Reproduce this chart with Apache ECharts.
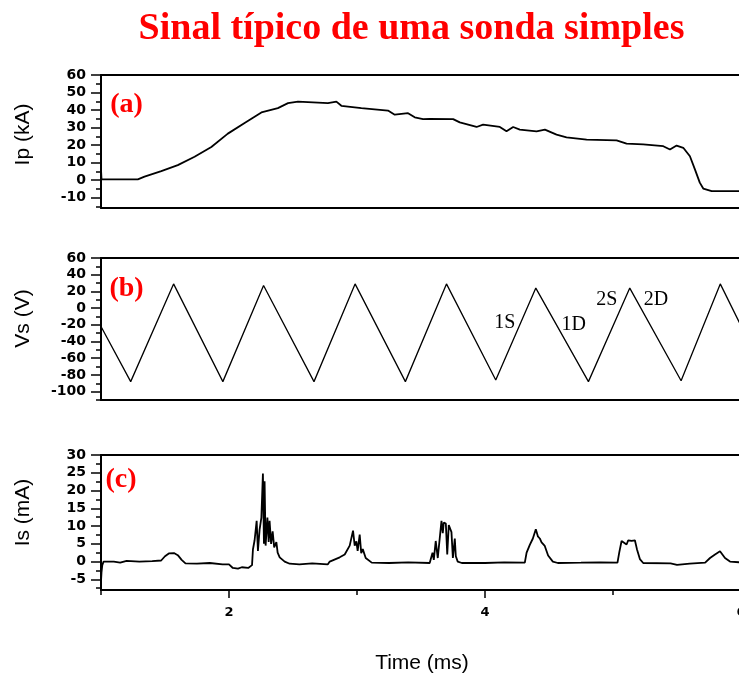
<!DOCTYPE html>
<html>
<head>
<meta charset="utf-8">
<script src="https://cdn.jsdelivr.net/npm/echarts@6/dist/echarts.min.js"></script>
<style>html,body{margin:0;padding:0;background:#fff}#c{width:739px;height:681px}</style>
</head>
<body>
<div id="c"></div>
<script>
// ---------- data ----------
const ipTime = [1.000,1.004,1.010,1.288,1.340,1.471,1.600,1.731,1.862,1.991,2.122,2.253,2.382,2.461,2.539,2.773,2.839,2.878,3.034,3.242,3.295,3.399,3.451,3.516,3.568,3.751,3.803,3.934,3.985,4.116,4.168,4.220,4.272,4.403,4.468,4.559,4.637,4.794,5.028,5.106,5.236,5.393,5.445,5.497,5.549,5.601,5.640,5.678,5.705,5.771,5.990];
const ipCurrent = [6,0.4,0.4,0.4,1.9,5.1,8.5,13.3,18.9,26.5,32.6,38.6,41.1,43.9,44.8,43.9,44.8,42.4,41.1,39.7,37.3,38.2,35.8,34.8,34.9,34.8,32.9,30.3,31.6,30.3,27.8,30.3,28.8,27.8,28.8,25.9,24.4,23.1,22.7,20.8,20.3,19.3,17.4,19.7,18.4,13.6,6.1,-1.5,-4.9,-6.4,-6.4];

const vsTime = [1.000,1.232,1.567,1.952,2.270,2.664,2.985,3.378,3.699,4.084,4.397,4.808,5.131,5.532,5.838,5.990];
const vsVoltage = [-22,-88,29,-88,27,-88,29,-88,29,-86,24,-88,24,-87,29,-18];

const isTime = [1.000,1.004,1.010,1.020,1.100,1.150,1.200,1.300,1.400,1.470,1.500,1.530,1.570,1.600,1.630,1.660,1.750,1.850,1.950,2.000,2.030,2.070,2.100,2.150,2.180,2.187,2.200,2.216,2.226,2.239,2.253,2.265,2.273,2.278,2.286,2.300,2.310,2.317,2.329,2.341,2.353,2.370,2.380,2.396,2.435,2.474,2.550,2.650,2.771,2.787,2.865,2.904,2.943,2.969,2.982,2.995,3.005,3.021,3.033,3.045,3.068,3.115,3.250,3.400,3.568,3.590,3.600,3.615,3.631,3.641,3.660,3.670,3.678,3.694,3.705,3.717,3.738,3.749,3.764,3.772,3.787,3.819,4.000,4.150,4.311,4.325,4.350,4.374,4.397,4.413,4.428,4.442,4.467,4.493,4.530,4.569,4.750,4.900,5.035,5.049,5.067,5.106,5.119,5.145,5.171,5.187,5.210,5.236,5.450,5.500,5.600,5.720,5.758,5.797,5.836,5.875,5.914,5.990];
const isCurrent = [-5.5,-3,-1,0,0,-0.3,0.2,0,0.1,0.3,1.5,2.3,2.4,1.8,0.5,-0.5,-0.6,-0.4,-0.8,-0.8,-1.8,-2,-1.6,-1.8,-1.0,3.4,6,11.5,3,9,12.4,24.8,5,22.6,4.5,12.4,5.5,11.5,5,8.5,4,5.5,2.5,1.2,0,-0.6,-0.8,-0.5,-0.8,0,1.2,2,4.5,8.7,4.5,5.7,3,7.6,2.4,3.5,1,-0.3,-0.4,-0.2,-0.4,2.5,0.5,5.8,1,0.5,11.5,8,11,10.7,2,10.3,8.3,1,6.5,1.5,0,-0.4,-0.4,-0.2,-0.3,2.5,4.7,6.5,9.1,7.1,6.5,5.4,4.4,1.7,0,-0.4,-0.3,-0.2,-0.3,2.6,5.8,4.8,6,5.8,6,3.5,0.7,-0.4,-0.5,-0.9,-0.6,-0.3,1,2,2.9,1,0,-0.2];

const ipTicks = [-10,0,10,20,30,40,50,60];
const ipMinorTicks = [-15,-5,5,15,25,35,45,55];
const vsTicks = [-100,-80,-60,-40,-20,0,20,40,60];
const vsMinorTicks = [-110,-90,-70,-50,-30,-10,10,30,50];
const isTicks = [-5,0,5,10,15,20,25,30];
const isMinorTicks = [-7.5,-2.5,2.5,7.5,12.5,17.5,22.5,27.5];
const timeTicks = [2,4,6];
const timeMinorTicks = [1,3,5];

const vsMarkText = ['1S','1D','2S','2D'];
const vsMarkTime = [4.155,4.694,4.952,5.335];
const vsMarkValue = [-17.6,-20,10,10];

const titleText = 'Sinal típico de uma sonda simples';
const panelLetters = ['(a)','(b)','(c)'];
const yNames = ['Ip (kA)','Vs (V)','Is (mA)'];
const xName = 'Time (ms)';

// ---------- chart ----------
const zip = (a,b) => a.map((v,i)=>[v,b[i]]);
const chart = echarts.init(document.getElementById('c'), null, {renderer:'canvas'});

const grids = [
  {left:101, top:75, width:640, height:133},
  {left:101, top:258, width:640, height:142},
  {left:101, top:455, width:640, height:135}
].map(g => Object.assign({show:false, outerBoundsMode:'none', containLabel:false}, g));

const yRanges = [[-16,60],[-110,60],[-8,30]];
const yMajor = [ipTicks, vsTicks, isTicks];
const yMinor = [ipMinorTicks, vsMinorTicks, isMinorTicks];

const black = '#000';
const axisLineOn = {show:true, onZero:false, lineStyle:{color:black, width:2}};
const tickStyle = {color:black, width:1.5};

const xAxis = [];
const yAxis = [];
for (let i=0;i<3;i++){
  const last = i===2;
  xAxis.push({type:'value', gridIndex:i, position:'bottom', min:1, max:6, axisLine:axisLineOn,
    splitLine:{show:false},
    axisTick:{show:last, customValues:timeTicks, length:8, lineStyle:tickStyle},
    axisLabel:{show:last, customValues:timeTicks, margin:16, fontSize:13, color:black, fontFamily:'DejaVu Sans', fontWeight:'bold'}});
  xAxis.push({type:'value', gridIndex:i, position:'bottom', min:1, max:6, axisLine:{show:false, onZero:false}, splitLine:{show:false},
    axisTick:{show:last, customValues:timeMinorTicks, length:5, lineStyle:tickStyle},
    axisLabel:{show:false}});
  xAxis.push({type:'value', gridIndex:i, position:'top', min:1, max:6, axisLine:axisLineOn, splitLine:{show:false},
    axisTick:{show:false}, axisLabel:{show:false}});
  yAxis.push({type:'value', gridIndex:i, position:'left', min:yRanges[i][0], max:yRanges[i][1], axisLine:axisLineOn,
    splitLine:{show:false},
    axisTick:{show:true, customValues:yMajor[i], length:10, lineStyle:tickStyle},
    axisLabel:{customValues:yMajor[i], margin:15, color:black, fontFamily:'DejaVu Sans', fontWeight:'bold', fontSize:14}});
  yAxis.push({type:'value', gridIndex:i, position:'left', min:yRanges[i][0], max:yRanges[i][1], axisLine:{show:false, onZero:false},
    splitLine:{show:false},
    axisTick:{show:true, customValues:yMinor[i], length:5, lineStyle:tickStyle},
    axisLabel:{show:false}});
}

const lineSeries = (i, data, w) => ({type:'line', xAxisIndex:3*i, yAxisIndex:2*i, data, showSymbol:false,
  symbol:'none', lineStyle:{color:black, width:w}, silent:true, animation:false});

const series = [
  lineSeries(0, zip(ipTime,ipCurrent), 1.8),
  lineSeries(1, zip(vsTime,vsVoltage), 1.3),
  lineSeries(2, zip(isTime,isCurrent), 1.8),
  {type:'scatter', xAxisIndex:3, yAxisIndex:2, symbolSize:0, silent:true, animation:false,
   itemStyle:{opacity:1},
   data: vsMarkText.map((t,i)=>({value:[vsMarkTime[i], vsMarkValue[i]], name:t})),
   label:{show:true, position:'inside', formatter:p=>p.name, color:black, opacity:1,
     fontFamily:'Liberation Serif', fontSize:20}}
];

const textEl = (x,y,text,font,fill,rot) => ({type:'text', x, y, rotation:rot||0, silent:true,
  style:{text, font, fill, align:'center', verticalAlign:'middle'}});

const graphic = [
  textEl(411.5, 29, titleText, 'bold 38px "Liberation Serif"', '#ff0000'),
  textEl(126.5, 105, panelLetters[0], 'bold 28px "Liberation Serif"', '#ff0000'),
  textEl(126.5, 289, panelLetters[1], 'bold 28px "Liberation Serif"', '#ff0000'),
  textEl(121, 480, panelLetters[2], 'bold 28px "Liberation Serif"', '#ff0000'),
  textEl(23, 134.5, yNames[0], '21px "Liberation Sans"', black, Math.PI/2),
  textEl(23, 318.5, yNames[1], '21px "Liberation Sans"', black, Math.PI/2),
  textEl(23, 512.5, yNames[2], '21px "Liberation Sans"', black, Math.PI/2),
  textEl(422, 663, xName, '21px "Liberation Sans"', black)
];

chart.setOption({animation:false, backgroundColor:'#fff', grid:grids, xAxis, yAxis, series, graphic});
</script>
</body>
</html>
